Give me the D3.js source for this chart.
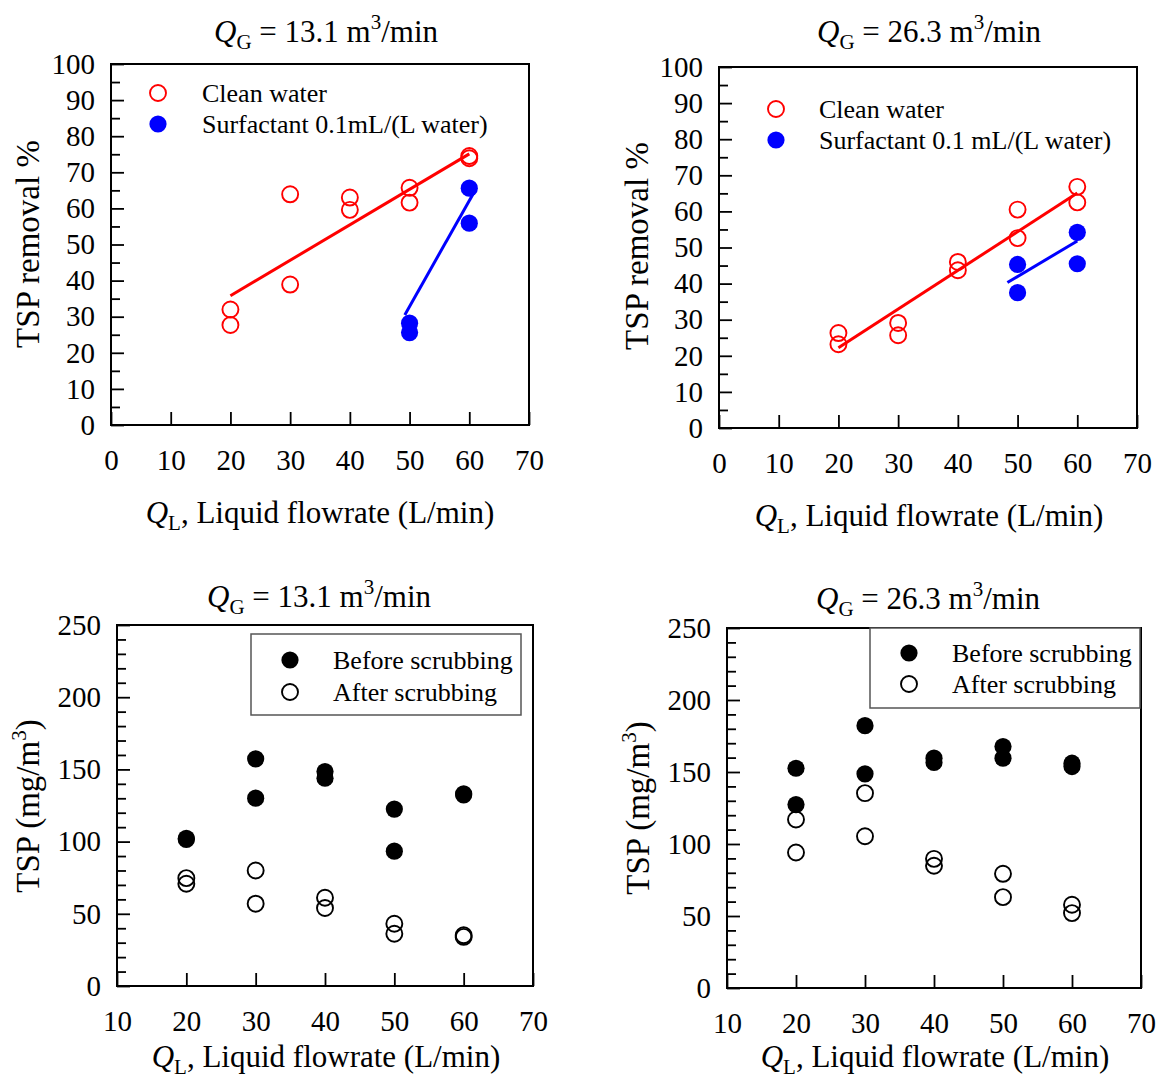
<!DOCTYPE html>
<html>
<head>
<meta charset="utf-8">
<script src="https://cdn.jsdelivr.net/npm/d3@7"></script>
<style>
  body { margin: 0; background: #fff; }
  svg text { font-family: "Liberation Serif", "Times New Roman", serif; fill: #000; }
</style>
</head>
<body>
<div id="chart"></div>
<script>
// liquid flow rate (L/min), two runs at each setting
var flowAll = [20, 20, 30, 30, 40, 40, 50, 50, 60, 60];
var flowSurf = [50, 50, 60, 60];

// TSP removal %, QG = 13.1 m3/min
var clean131 = [32.0, 27.7, 63.9, 38.9, 63.0, 59.6, 65.7, 61.6, 74.5, 73.9];
var surf131 = [28.2, 25.6, 65.6, 55.9];
// fitted lines as drawn: [flow, removal] at each end
var cleanFit131 = [[20, 35.8], [60, 75.1]];
var surfFit131 = [[49.2, 30.5], [60.8, 64.5]];

// TSP removal %, QG = 26.3 m3/min
var clean263 = [26.3, 23.2, 29.1, 25.7, 46.0, 43.7, 60.5, 52.6, 66.8, 62.5];
var surf263 = [45.3, 37.5, 54.2, 45.5];
var cleanFit263 = [[20, 22.2], [60, 65.1]];
var surfFit263 = [[48.3, 40.3], [60, 51.8]];

// TSP (mg/m3) before / after scrubbing
var before131 = [102.3, 101.5, 157.3, 130.1, 148.5, 143.9, 122.5, 93.4, 133.1, 132.3];
var after131 = [74.7, 70.8, 80.0, 57.0, 61.1, 54.0, 43.1, 36.2, 35.1, 34.0];
var before263 = [152.6, 127.4, 182.2, 148.7, 159.6, 156.6, 167.7, 159.6, 156.1, 153.8];
var after263 = [117.0, 94.1, 135.3, 105.4, 89.7, 84.9, 79.3, 63.1, 57.8, 52.0];

// ticks
var removalTicks = d3.range(0, 101, 10);
var removalMinor = d3.range(5, 100, 10);
var flowTicksTop = d3.range(0, 71, 10);
var tspTicks = d3.range(0, 251, 50);
var tspMinor = d3.range(10, 250, 10).filter(function(v){ return v % 50 != 0; });
var flowTicksBottom = d3.range(10, 71, 10);

var cleanLabel = "Clean water";
var surfLabels = ["Surfactant 0.1mL/(L water)", "Surfactant 0.1 mL/(L water)"];
var beforeLabel = "Before scrubbing";
var afterLabel = "After scrubbing";

var FONT = '"Liberation Serif", "Times New Roman", serif';

var svg = d3.select("#chart").append("svg")
    .attr("width", 1160)
    .attr("height", 1079);

function qText( g, x, y, sub, rest, sup, tail, rotate ){
    //Q with subscript, optional superscript part
    var t = g.append("text")
        .attr("text-anchor", "middle")
        .attr("font-size", rotate ? 33 : 31);
    if( rotate ){
        t.attr("transform", "translate(" + x + "," + y + ") rotate(-90)");
    }else{
        t.attr("x", x).attr("y", y);
    }
    if( sub ){
        t.append("tspan").attr("font-style", "italic").text("Q");
        t.append("tspan").attr("font-size", 21).attr("dy", 7).text(sub);
        t.append("tspan").attr("dy", -7).text(rest);
    }else{
        t.append("tspan").text(rest);
    }
    if( sup ){
        t.append("tspan").attr("font-size", 21).attr("dy", -13).text(sup);
        t.append("tspan").attr("dy", 13).text(tail);
    }
    return t;
}

function drawPanel( p ){
    var x = d3.scaleLinear().domain(p.xDomain).range([p.left, p.right]);
    var y = d3.scaleLinear().domain(p.yDomain).range([p.bottom, p.top]);
    var g = svg.append("g");

    //minor y ticks
    g.append("g")
        .attr("transform", "translate(" + p.left + ",0)")
        .call(d3.axisLeft(y).tickValues(p.yMinor).tickSize(-9).tickFormat(""))
        .call(function(a){ a.select(".domain").remove(); });

    //major y ticks and labels
    g.append("g")
        .attr("transform", "translate(" + p.left + ",0)")
        .call(d3.axisLeft(y).tickValues(p.yTicks).tickSize(-13).tickPadding(16))
        .call(function(a){ a.select(".domain").remove(); })
        .attr("font-size", 29)
        .attr("font-family", FONT);

    //x ticks and labels
    g.append("g")
        .attr("transform", "translate(0," + p.bottom + ")")
        .call(d3.axisBottom(x).tickValues(p.xTicks).tickSize(-13).tickPadding(24))
        .call(function(a){ a.select(".domain").remove(); })
        .attr("font-size", 29)
        .attr("font-family", FONT);

    g.selectAll(".tick line").attr("stroke", "#000").attr("stroke-width", 1.8);

    //fit lines
    var line = d3.line()
        .x(function(d){ return x(d[0]); })
        .y(function(d){ return y(d[1]); });
    p.fits.forEach(function( f ){
        g.append("path")
            .datum(f.data)
            .attr("d", line)
            .attr("fill", "none")
            .attr("stroke", f.color)
            .attr("stroke-width", 3);
    });

    //markers
    p.series.forEach(function( s ){
        g.selectAll(null)
            .data(s.y)
            .enter()
            .append("circle")
            .attr("cx", function(d, i){ return x(s.x[i]); })
            .attr("cy", function(d){ return y(d); })
            .attr("r", s.filled ? 8.6 : 8)
            .attr("fill", s.filled ? s.color : "none")
            .attr("stroke", s.color)
            .attr("stroke-width", s.filled ? 0 : 1.9);
    });

    //frame
    g.append("rect")
        .attr("x", p.left)
        .attr("y", p.top)
        .attr("width", p.right - p.left)
        .attr("height", p.bottom - p.top)
        .attr("fill", "none")
        .attr("stroke", "#000")
        .attr("stroke-width", 2);

    //legend
    var L = p.legend;
    if( L.box ){
        g.append("rect")
            .attr("x", L.box[0])
            .attr("y", L.box[1])
            .attr("width", L.box[2])
            .attr("height", L.box[3])
            .attr("fill", "#fff")
            .attr("stroke", "#555")
            .attr("stroke-width", 1.5);
    }
    p.series.forEach(function( s, i ){
        var ry = L.y + i * L.gap;
        g.append("circle")
            .attr("cx", L.x)
            .attr("cy", ry)
            .attr("r", s.filled ? 8.6 : 8)
            .attr("fill", s.filled ? s.color : "none")
            .attr("stroke", s.color)
            .attr("stroke-width", s.filled ? 0 : 1.9);
        g.append("text")
            .attr("x", L.textX)
            .attr("y", ry + 9)
            .attr("font-size", 26)
            .text(s.label);
    });

    //title and axis labels
    qText(g, p.title[0], p.title[1], "G", " = " + p.titleVal + " m", "3", "/min", false);
    qText(g, p.xLabel[0], p.xLabel[1], "L", ", Liquid flowrate (L/min)", null, null, false);
    if( p.yUnit ){
        qText(g, p.yLabel[0], p.yLabel[1], null, p.yText, "3", ")", true);
    }else{
        qText(g, p.yLabel[0], p.yLabel[1], null, p.yText, null, null, true);
    }
}

drawPanel({
    left: 111, right: 529, top: 64, bottom: 425,
    xDomain: [0, 70], yDomain: [0, 100],
    xTicks: flowTicksTop, yTicks: removalTicks, yMinor: removalMinor,
    fits: [ { data: cleanFit131, color: "#ff0000" }, { data: surfFit131, color: "#0000ff" } ],
    series: [
        { x: flowAll, y: clean131, color: "#ff0000", filled: false, label: cleanLabel },
        { x: flowSurf, y: surf131, color: "#0000ff", filled: true, label: surfLabels[0] }
    ],
    legend: { x: 158, y: 93, gap: 31, textX: 202 },
    title: [326, 42], titleVal: "13.1",
    xLabel: [320, 523],
    yLabel: [39, 244], yText: "TSP removal %"
});

drawPanel({
    left: 719, right: 1137, top: 67, bottom: 428,
    xDomain: [0, 70], yDomain: [0, 100],
    xTicks: flowTicksTop, yTicks: removalTicks, yMinor: removalMinor,
    fits: [ { data: cleanFit263, color: "#ff0000" }, { data: surfFit263, color: "#0000ff" } ],
    series: [
        { x: flowAll, y: clean263, color: "#ff0000", filled: false, label: cleanLabel },
        { x: flowSurf, y: surf263, color: "#0000ff", filled: true, label: surfLabels[1] }
    ],
    legend: { x: 776, y: 109, gap: 31, textX: 819 },
    title: [929, 42], titleVal: "26.3",
    xLabel: [929, 526],
    yLabel: [648, 246], yText: "TSP removal %"
});

drawPanel({
    left: 117, right: 533, top: 625, bottom: 986,
    xDomain: [10, 70], yDomain: [0, 250],
    xTicks: flowTicksBottom, yTicks: tspTicks, yMinor: tspMinor,
    fits: [],
    series: [
        { x: flowAll, y: before131, color: "#000", filled: true, label: beforeLabel },
        { x: flowAll, y: after131, color: "#000", filled: false, label: afterLabel }
    ],
    legend: { box: [251, 634, 270, 81], x: 290, y: 660, gap: 32, textX: 333 },
    title: [319, 607], titleVal: "13.1",
    xLabel: [326, 1067],
    yLabel: [39, 806], yText: "TSP (mg/m", yUnit: true
});

drawPanel({
    left: 727, right: 1141, top: 628, bottom: 988,
    xDomain: [10, 70], yDomain: [0, 250],
    xTicks: flowTicksBottom, yTicks: tspTicks, yMinor: tspMinor,
    fits: [],
    series: [
        { x: flowAll, y: before263, color: "#000", filled: true, label: beforeLabel },
        { x: flowAll, y: after263, color: "#000", filled: false, label: afterLabel }
    ],
    legend: { box: [870, 628, 270, 80], x: 909, y: 653, gap: 31, textX: 952 },
    title: [928, 609], titleVal: "26.3",
    xLabel: [935, 1067],
    yLabel: [649, 808], yText: "TSP (mg/m", yUnit: true
});
</script>
</body>
</html>
